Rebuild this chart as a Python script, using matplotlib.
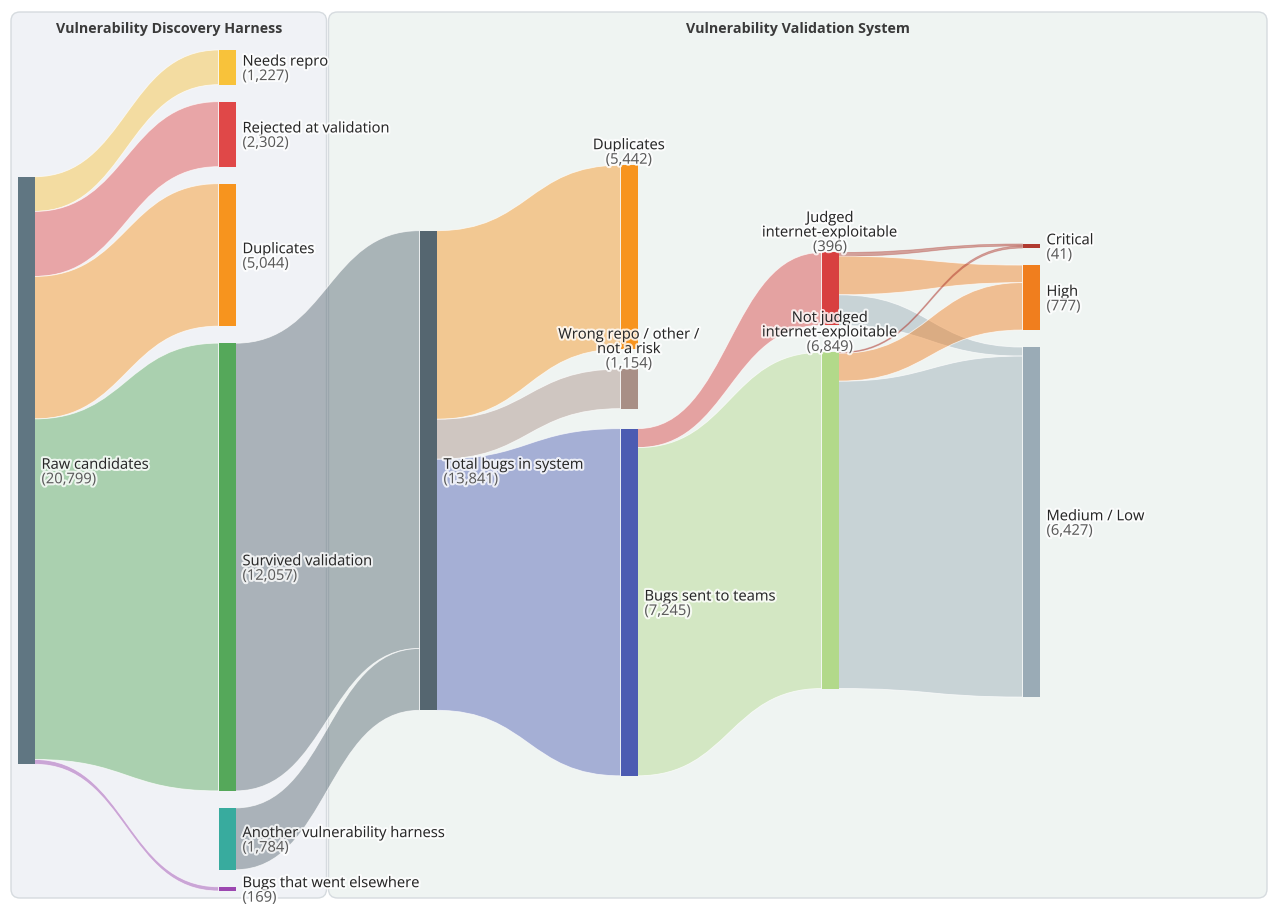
import matplotlib
matplotlib.use("Agg")
import matplotlib.pyplot as plt
from matplotlib.path import Path
from matplotlib.patches import PathPatch, Rectangle, FancyBboxPatch
import matplotlib.patheffects as pe
from matplotlib.colors import to_rgba

# ---------------- data ----------------
node_names = [
    "Raw candidates", "Needs repro", "Rejected at validation", "Duplicates",
    "Survived validation", "Another vulnerability harness", "Bugs that went elsewhere",
    "Total bugs in system", "Duplicates", "Wrong repo / other /\nnot a risk",
    "Bugs sent to teams", "Judged\ninternet-exploitable", "Not judged\ninternet-exploitable",
    "Critical", "High", "Medium / Low",
]
node_counts = [20799, 1227, 2302, 5044, 12057, 1784, 169, 13841, 5442, 1154,
               7245, 396, 6849, 41, 777, 6427]
node_column = [0, 1, 1, 1, 1, 1, 1, 2, 3, 3, 3, 4, 4, 5, 5, 5]
node_drawn = [20799, 1227, 2302, 5044, 15850, 2190, 150, 16980, 6510, 1400,
              12290, 2580, 11900, 145, 2300, 12390]

link_source = [0, 0, 0, 0, 0, 4, 5, 7, 7, 7, 10, 10, 11, 11, 11, 12, 12, 12]
link_target = [1, 2, 3, 4, 6, 7, 7, 8, 9, 10, 11, 12, 13, 14, 15, 13, 14, 15]
link_value = [1227, 2302, 5044, 12057, 169, 12057, 1784, 5442, 1154, 7245,
              396, 6849, 20, 210, 166, 21, 567, 6261]

group_titles = ["Vulnerability Discovery Harness", "Vulnerability Validation System"]
group_columns = [(0, 1), (2, 5)]

# ---------------- style ----------------
node_colors = ["#607682", "#f8c23a", "#e04848", "#f7941e", "#55a85a", "#38ab9e", "#9c47b0",
               "#556670", "#f7941e", "#a88f86", "#4c5bb2", "#d84040", "#b2d98a",
               "#b03a30", "#f07e1e", "#9aabb6"]
label_side = ["right"] * 8 + ["above", "above", "right", "above", "above",
                              "right", "right", "right"]
group_fill = ["#f0f2f6", "#eff4f2"]
FONT = "Open Sans"

W, H = 1280, 915
fig = plt.figure(figsize=(W / 100, H / 100), dpi=100)
ax = fig.add_axes([0, 0, 1, 1])
ax.set_xlim(0, W)
ax.set_ylim(H, 0)
ax.axis("off")

TOP, BOTTOM = 50, 891
X0, STEP, NW = 17.5, 201, 17
col_pad = [17, 17, 17, 20, 27, 17]
ncol = max(node_column) + 1
n = len(node_names)

cols = [[i for i in range(n) if node_column[i] == c] for c in range(ncol)]
ky = min((BOTTOM - TOP - (len(ids) - 1) * col_pad[c]) / sum(node_drawn[i] for i in ids)
         for c, ids in enumerate(cols))
mid = (TOP + BOTTOM) / 2
y0 = [0.0] * n
hgt = [0.0] * n
for c, ids in enumerate(cols):
    total = sum(node_drawn[i] * ky for i in ids) + (len(ids) - 1) * col_pad[c]
    y = mid - total / 2
    for i in ids:
        hgt[i] = node_drawn[i] * ky
        y0[i] = y
        y += hgt[i] + col_pad[c]
xl = [X0 + STEP * node_column[i] for i in range(n)]

# ---------------- group panels ----------------
for g, (c0, c1) in enumerate(group_columns):
    left = X0 - 6.5 if c0 == 0 else (X0 + STEP * c0 + X0 + STEP * (c0 - 1) + NW) / 2 + 1
    right = (X0 + STEP * c1 + NW + X0 + STEP * (c1 + 1)) / 2 - 1 if c1 < ncol - 1 else W - 13
    box = FancyBboxPatch((left, 12), right - left, 886,
                         boxstyle="round,pad=0,rounding_size=9",
                         facecolor=group_fill[g], edgecolor="#d6dbdf", linewidth=1.0, zorder=0)
    ax.add_patch(box)
    ax.text((left + right) / 2, 29.5, group_titles[g], ha="center", va="center",
            fontsize=10.3, fontweight="bold", color="#3a3a3a", family=FONT, zorder=5)

# ---------------- links ----------------
out_sum = [sum(v for s, v in zip(link_source, link_value) if s == i) for i in range(n)]
in_sum = [sum(v for t, v in zip(link_target, link_value) if t == i) for i in range(n)]
src_off = {}
tgt_off = {}
for i in range(n):
    outs = sorted([k for k in range(len(link_value)) if link_source[k] == i], key=lambda k: y0[link_target[k]])
    y = y0[i]
    for k in outs:
        w = link_value[k] / out_sum[i] * hgt[i]
        src_off[k] = (y, y + w)
        y += w
    ins = sorted([k for k in range(len(link_value)) if link_target[k] == i], key=lambda k: y0[link_source[k]])
    y = y0[i]
    for k in ins:
        w = link_value[k] / in_sum[i] * hgt[i]
        tgt_off[k] = (y, y + w)
        y += w

for k in range(len(link_value)):
    s, t = link_source[k], link_target[k]
    xs = xl[s] + NW
    xt = xl[t]
    xm = (xs + xt) / 2
    (a0, a1), (b0, b1) = src_off[k], tgt_off[k]
    verts = [(xs, a0), (xm, a0), (xm, b0), (xt, b0), (xt, b1), (xm, b1), (xm, a1), (xs, a1), (xs, a0)]
    codes = [Path.MOVETO, Path.CURVE4, Path.CURVE4, Path.CURVE4, Path.LINETO,
             Path.CURVE4, Path.CURVE4, Path.CURVE4, Path.CLOSEPOLY]
    fc = to_rgba(node_colors[t], 0.45)
    thin = min(a1 - a0, b1 - b0) < 3
    ec = to_rgba(node_colors[t], 0.35) if thin else (1, 1, 1, 0.7)
    ax.add_patch(PathPatch(Path(verts, codes), facecolor=fc, edgecolor=ec, linewidth=0.6, zorder=2))

# ---------------- nodes ----------------
for i in range(n):
    ax.add_patch(Rectangle((xl[i], y0[i]), NW, hgt[i], facecolor=node_colors[i],
                           edgecolor="none", zorder=3))

# ---------------- labels ----------------
halo = [pe.withStroke(linewidth=3, foreground=(1, 1, 1, 0.8))]
LS = 14.5
DY = 2
for i in range(n):
    lines = node_names[i].split("\n") + [f"({node_counts[i]:,})"]
    colors = ["#262626"] * (len(lines) - 1) + ["#5a5a5a"]
    if label_side[i] == "right":
        x = xl[i] + NW + 7
        c = y0[i] + hgt[i] / 2 + DY
        ys = [c + (j - (len(lines) - 1) / 2) * LS for j in range(len(lines))]
        ha = "left"
    else:
        x = xl[i] + NW / 2
        ys = [y0[i] - 5 - (len(lines) - 1 - j) * LS for j in range(len(lines))]
        ha = "center"
    for line, yy, col in zip(lines, ys, colors):
        ax.text(x, yy, line, ha=ha, va="center", fontsize=10.6, color=col, family=FONT,
                path_effects=halo, zorder=6)

fig.savefig("out.png", dpi=100, facecolor="white")
